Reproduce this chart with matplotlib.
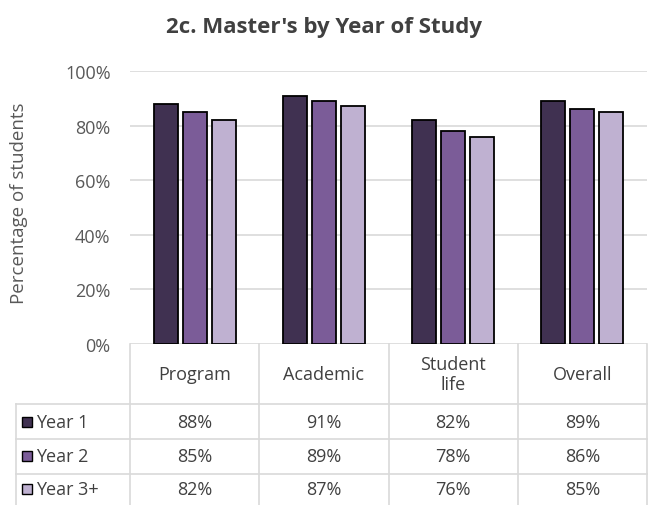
import matplotlib.pyplot as plt
import numpy as np
from matplotlib.transforms import blended_transform_factory
from matplotlib.patches import Rectangle

plt.rcParams['font.family'] = ['Open Sans', 'DejaVu Sans']

# data
categories = ['Program', 'Academic', 'Student\nlife', 'Overall']
series = ['Year 1', 'Year 2', 'Year 3+']
year1 = [88, 91, 82, 89]
year2 = [85, 89, 78, 86]
year3 = [82, 87, 76, 85]
values = [year1, year2, year3]
colors = ['#403151', '#7b5c98', '#bfb1d1']

W, H = 649, 506
fig = plt.figure(figsize=(W / 100, H / 100), dpi=100)
# plot area in pixels: x 130..647, y 72..345
ax = fig.add_axes([130 / W, 1 - 345 / H, 517 / W, 273 / H])

x = np.arange(len(categories))
width = 0.186
step = 0.224
for i, (vals, c) in enumerate(zip(values, colors)):
    ax.bar(x + (i - 1) * step, np.array(vals) / 100, width, color=c,
           edgecolor='black', linewidth=1.3, zorder=3)

ax.set_xlim(-0.5, len(categories) - 0.5)
ax.set_ylim(0, 1)
ax.set_yticks(np.arange(0, 1.01, 0.2))
ax.set_yticklabels([f'{int(round(v * 100))}%' for v in np.arange(0, 1.01, 0.2)])
ax.yaxis.grid(True, color='#d9d9d9', linewidth=1.2, zorder=0)
ax.tick_params(axis='y', length=0, pad=14, labelsize=13, labelcolor='#595959')
ax.set_xticks([])
for s in ax.spines.values():
    s.set_visible(False)
ax.set_ylabel('Percentage of students', fontsize=13.5, color='#595959')
ax.yaxis.set_label_coords(-102 / 517, 0.52)

fig.text(0.5, 1 - 27 / H, "2c. Master's by Year of Study", ha='center', va='center',
         fontsize=16, fontweight='bold', color='#404040')

# data table below the plot
tr = blended_transform_factory(ax.transData, fig.transFigure)
def fy(py):
    return 1 - py / H
lc = '#d9d9d9'
edges = np.arange(len(categories) + 1) - 0.5
x_left = -0.5 - 114 / 129.25  # legend column left edge
for py in [405, 440, 475]:
    ax.plot([x_left, edges[-1]], [fy(py)] * 2, transform=tr, color=lc, lw=1.2, clip_on=False)
for e in edges:
    ax.plot([e, e], [fy(345), fy(506)], transform=tr, color=lc, lw=1.2, clip_on=False)
ax.plot([x_left, x_left], [fy(405), fy(506)], transform=tr, color=lc, lw=1.2, clip_on=False)

for j, cat in enumerate(categories):
    ax.text(j, fy(375), cat, transform=tr, ha='center', va='center',
            fontsize=13, color='#404040', linespacing=1.2)

row_centers = [423, 457, 490]
for i, (name, vals, c) in enumerate(zip(series, values, colors)):
    yc = fy(row_centers[i])
    ax.add_patch(Rectangle((22 / W, yc - 5 / H), 10 / W, 10 / H, transform=fig.transFigure,
                           facecolor=c, edgecolor='black', lw=1, clip_on=False))
    fig.text(36 / W, yc, name, ha='left', va='center', fontsize=13, color='#404040')
    for j, v in enumerate(vals):
        ax.text(j, yc, f'{v}%', transform=tr, ha='center', va='center',
                fontsize=13, color='#404040')

fig.savefig('out.png', dpi=100)
